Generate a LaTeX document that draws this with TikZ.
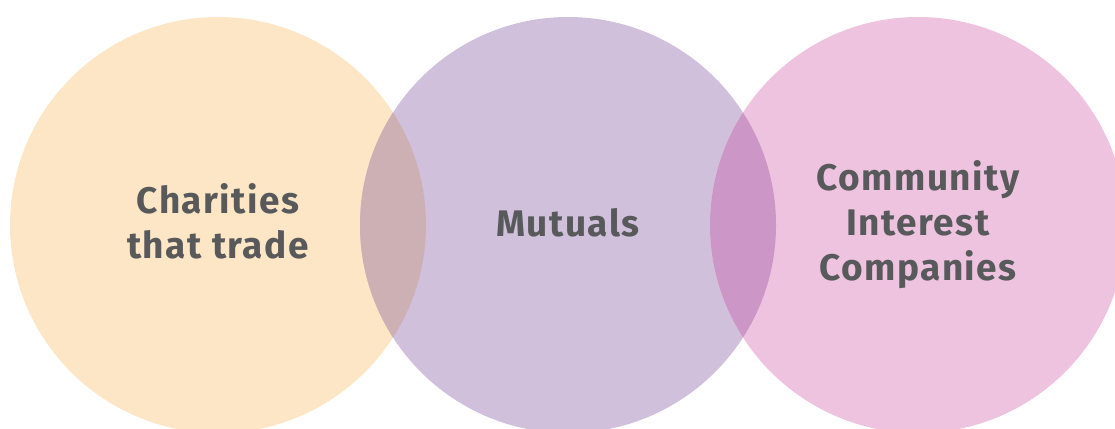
\documentclass[tikz,border=0pt]{standalone}
\usepackage{fontspec}
\setmainfont{Fira Sans}
\newfontfamily\labelfont[LetterSpace=4]{Fira Sans}
\definecolor{peach}{HTML}{FDE6C6}
\definecolor{lilac}{HTML}{D0C0DC}
\definecolor{rose}{HTML}{EDC3DF}
\definecolor{peachlilac}{HTML}{CDB0B4}
\definecolor{lilacrose}{HTML}{CC96C6}
\definecolor{ink}{HTML}{58595B}
\begin{document}
\begin{tikzpicture}[x=1pt,y=-1pt,
  label/.style={text=ink,font=\labelfont\fontsize{37}{45}\selectfont\bfseries,align=center}]
\useasboundingbox (0,0) rectangle (1115,428);
\clip (0,0) rectangle (1115,428);
% three sets
\fill[peach] (218,225) circle (208);
\fill[lilac] (568,225) circle (208);
\fill[rose] (918,225) circle (208);
% overlaps
\begin{scope}
  \clip (218,225) circle (208);
  \fill[peachlilac] (568,225) circle (208);
\end{scope}
\begin{scope}
  \clip (568,225) circle (208);
  \fill[lilacrose] (918,225) circle (208);
\end{scope}
% labels
\node[label] (charities) at (218,221) {Charities\\that trade};
\node[label] (mutuals) at (568,223) {Mutuals};
\node[label] (cic) at (918,225) {Community\\Interest\\Companies};
\end{tikzpicture}
\end{document}
